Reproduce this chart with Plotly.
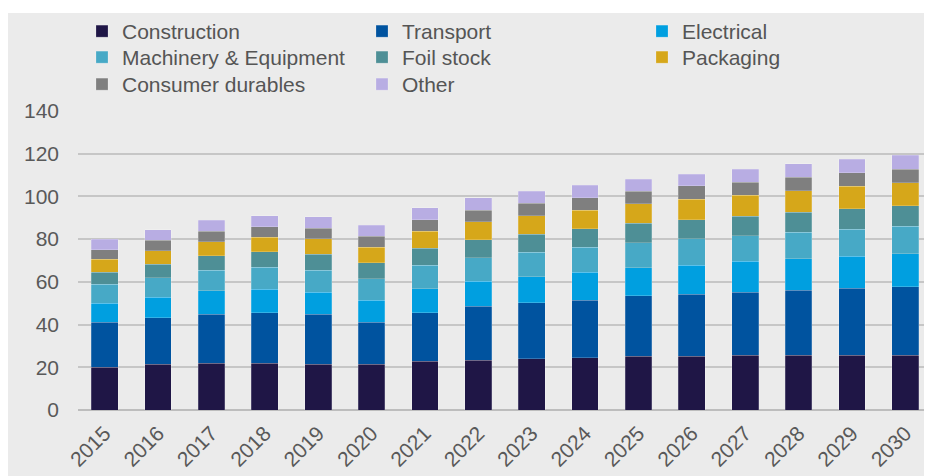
import plotly.graph_objects as go

years = [str(y) for y in range(2015, 2031)]

construction = [20.1, 21.4, 22.0, 22.0, 21.5, 21.4, 22.8, 23.4, 23.9, 24.5, 25.1, 25.1, 25.6, 25.6, 25.6, 25.6]
transport = [20.9, 21.8, 22.9, 23.6, 23.3, 19.8, 22.8, 25.1, 26.3, 27.0, 28.3, 29.2, 29.6, 30.4, 31.4, 32.0]
electrical = [8.9, 9.7, 11.0, 10.9, 10.4, 10.3, 11.2, 11.7, 12.1, 12.9, 13.2, 13.4, 14.4, 14.8, 15.1, 15.6]
machinery = [8.9, 9.1, 9.6, 10.4, 10.3, 10.0, 10.9, 11.1, 11.5, 11.8, 11.7, 12.4, 12.0, 12.5, 12.6, 12.8]
foil_stock = [5.6, 6.2, 6.8, 7.1, 7.4, 7.5, 8.0, 8.4, 8.6, 8.7, 9.1, 9.0, 9.1, 9.2, 9.6, 9.7]
packaging = [6.2, 6.4, 6.5, 6.8, 7.2, 7.3, 8.1, 8.5, 8.6, 8.7, 9.2, 9.5, 9.8, 10.2, 10.4, 10.6]
consumer = [4.5, 4.8, 5.0, 4.9, 5.0, 5.0, 5.2, 5.4, 5.8, 5.8, 5.9, 6.3, 6.2, 6.2, 6.3, 6.5]
other = [4.9, 4.9, 5.0, 5.3, 5.5, 5.2, 5.6, 5.7, 5.6, 5.9, 5.5, 5.4, 6.0, 6.3, 6.4, 6.6]

# one horizontal legend per row so the three columns line up
series = [
    ("Construction", construction, "#1f1646", "legend"),
    ("Transport", transport, "#00539f", "legend"),
    ("Electrical", electrical, "#009fe0", "legend"),
    ("Machinery & Equipment", machinery, "#47a9c6", "legend2"),
    ("Foil stock", foil_stock, "#4e8f96", "legend2"),
    ("Packaging", packaging, "#d6a71a", "legend2"),
    ("Consumer durables", consumer, "#7f7f7f", "legend3"),
    ("Other", other, "#b8ade3", "legend3"),
]

fig = go.Figure()
for name, vals, color, leg in series:
    fig.add_trace(go.Bar(
        x=years, y=vals, name=name, legend=leg,
        marker=dict(color=color, line=dict(width=0.5, color="rgba(255,255,255,0.4)"))
    ))

# page body adds an 8px offset, so the figure is 8px smaller than the window
W, H = 924, 468
ml, mr, mt, mb = 70, 0, 103, 66
pw = W - ml - mr
ph = H - mt - mb
GREY = "#ebebeb"

leg_font = dict(family="Liberation Sans, Arial, sans-serif", size=21, color="#555555")
legend_common = dict(
    orientation="h", traceorder="normal", bgcolor="rgba(0,0,0,0)",
    font=leg_font, xref="container", yref="container",
    xanchor="left", yanchor="top", x=74 / W,
    entrywidth=235, entrywidthmode="pixels",
)

fig.update_layout(
    width=W, height=H,
    margin=dict(l=ml, r=mr, t=mt, b=mb, autoexpand=False),
    barmode="stack", bargap=0.5,
    paper_bgcolor="white", plot_bgcolor=GREY,
    font=dict(family="Liberation Sans, Arial, sans-serif", size=21, color="#595959"),
    legend=dict(legend_common, y=1 - 3 / H),
    legend2=dict(legend_common, y=1 - 29 / H),
    legend3=dict(legend_common, y=1 - 56 / H),
    xaxis=dict(type="category", tickangle=-45, showgrid=False, ticks="",
               ticklabelstandoff=6, tickfont=dict(size=21)),
    yaxis=dict(range=[0, 140], dtick=20, showgrid=True, gridcolor="#c6c6c6",
               gridwidth=1.5, zeroline=True, zerolinecolor="#bdbdbd", zerolinewidth=1.5,
               ticks="", ticklabelstandoff=18, tickfont=dict(size=21)),
    shapes=[
        # grey chart panel, leaving a thin white page strip along the top
        dict(type="rect", xref="paper", yref="paper", layer="below",
             x0=-ml / pw - 0.01, x1=1.01, y0=-mb / ph - 0.05, y1=(H - mb - 5) / ph,
             fillcolor=GREY, line=dict(width=0)),
    ],
)

fig.write_html("out.html")
